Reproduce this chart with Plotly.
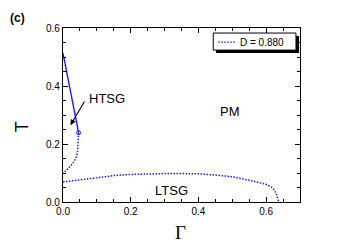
import plotly.graph_objects as go

# Data
htsg_solid_x = [0.0, 0.046]
htsg_solid_y = [0.513, 0.239]

htsg_dot_x = [0.046, 0.045, 0.044, 0.043, 0.040, 0.034, 0.025, 0.014, 0.0]
htsg_dot_y = [0.239, 0.215, 0.195, 0.175, 0.158, 0.142, 0.128, 0.114, 0.100]

ltsg_x = [0.0, 0.05, 0.1, 0.15, 0.2, 0.25, 0.3, 0.35, 0.4, 0.45, 0.5, 0.55, 0.58, 0.6, 0.615, 0.625, 0.632, 0.637]
ltsg_y = [0.069, 0.077, 0.084, 0.091, 0.095, 0.097, 0.098, 0.098, 0.097, 0.093, 0.087, 0.075, 0.067, 0.061, 0.052, 0.040, 0.022, 0.0]

legend_name = "D = 0.880"
BLUE = "#1a1aff"
DOT = "1.5px,1.5px"

fig = go.Figure()
fig.add_trace(go.Scatter(x=htsg_dot_x + [None] + ltsg_x, y=htsg_dot_y + [None] + ltsg_y,
                         mode="lines", line=dict(color=BLUE, width=1.5, dash=DOT),
                         name=legend_name, connectgaps=False, showlegend=False))
fig.add_trace(go.Scatter(x=htsg_solid_x, y=htsg_solid_y, mode="lines",
                         line=dict(color=BLUE, width=1.4), showlegend=False))
fig.add_trace(go.Scatter(x=[htsg_solid_x[-1]], y=[htsg_solid_y[-1]], mode="markers",
                         marker=dict(symbol="circle-open", size=4, color=BLUE, line=dict(width=1)),
                         showlegend=False))

axis_common = dict(showline=True, linecolor="black", linewidth=1.2, mirror="ticks",
                   ticks="inside", ticklen=5, tickcolor="black", showgrid=False, zeroline=False,
                   tickfont=dict(family="Liberation Sans, Arial", size=10, color="black"),
                   minor=dict(ticks="inside", ticklen=3, tickcolor="black", dtick=0.05))

fig.update_xaxes(range=[0, 0.7], dtick=0.2, tick0=0, tickformat=".1f", **axis_common)
fig.update_yaxes(range=[0, 0.6], dtick=0.2, tick0=0, tickformat=".1f", **axis_common)

txt = dict(showarrow=False, xanchor="center", yanchor="middle")

fig.update_layout(
    width=341, height=235,
    margin=dict(l=54.5, r=49, t=20, b=41.3),
    plot_bgcolor="white", paper_bgcolor="white",
    font=dict(family="Liberation Sans, Arial", color="black"),
    shapes=[
        # legend shadow
        dict(type="rect", xref="paper", yref="paper", x0=0.646, x1=0.996, y0=0.856, y1=0.954,
             fillcolor="black", line=dict(width=0), layer="above"),
        # legend box
        dict(type="rect", xref="paper", yref="paper", x0=0.634, x1=0.983, y0=0.873, y1=0.971,
             fillcolor="white", line=dict(color="black", width=1), layer="above"),
        # legend sample
        dict(type="line", xref="paper", yref="paper", x0=0.655, x1=0.731, y0=0.919, y1=0.919,
             line=dict(color=BLUE, width=1.3, dash=DOT), layer="above"),
    ],
    annotations=[
        dict(text=legend_name, x=0.739, y=0.919, xref="paper", yref="paper", showarrow=False,
             xanchor="left", yanchor="middle", font=dict(size=10)),
        dict(text="<b>(c)</b>", x=-0.192, y=1.058, xref="paper", yref="paper",
             font=dict(size=12), **txt),
        dict(text="", x=0.022, y=0.265, xref="x", yref="y", ax=0.066, ay=0.352,
             axref="x", ayref="y", showarrow=True, arrowhead=2, arrowsize=1, arrowwidth=1.1,
             arrowcolor="black", standoff=0),
        dict(text="HTSG", x=0.072, y=0.358, xref="x", yref="y", showarrow=False,
             font=dict(size=13), xanchor="left", yanchor="middle"),
        dict(text="PM", x=0.493, y=0.313, xref="x", yref="y", font=dict(size=13), **txt),
        dict(text="LTSG", x=0.319, y=0.04, xref="x", yref="y", font=dict(size=13), **txt),
        dict(text="T", x=-0.175, y=0.432, xref="paper", yref="paper",
             textangle=-90, font=dict(size=18, family="Liberation Sans, Arial"), **txt),
        dict(text="Γ", x=0.495, y=-0.173, xref="paper", yref="paper",
             font=dict(size=19, family="Liberation Serif, Times New Roman"), **txt),
    ],
)

fig.write_html("out.html")
